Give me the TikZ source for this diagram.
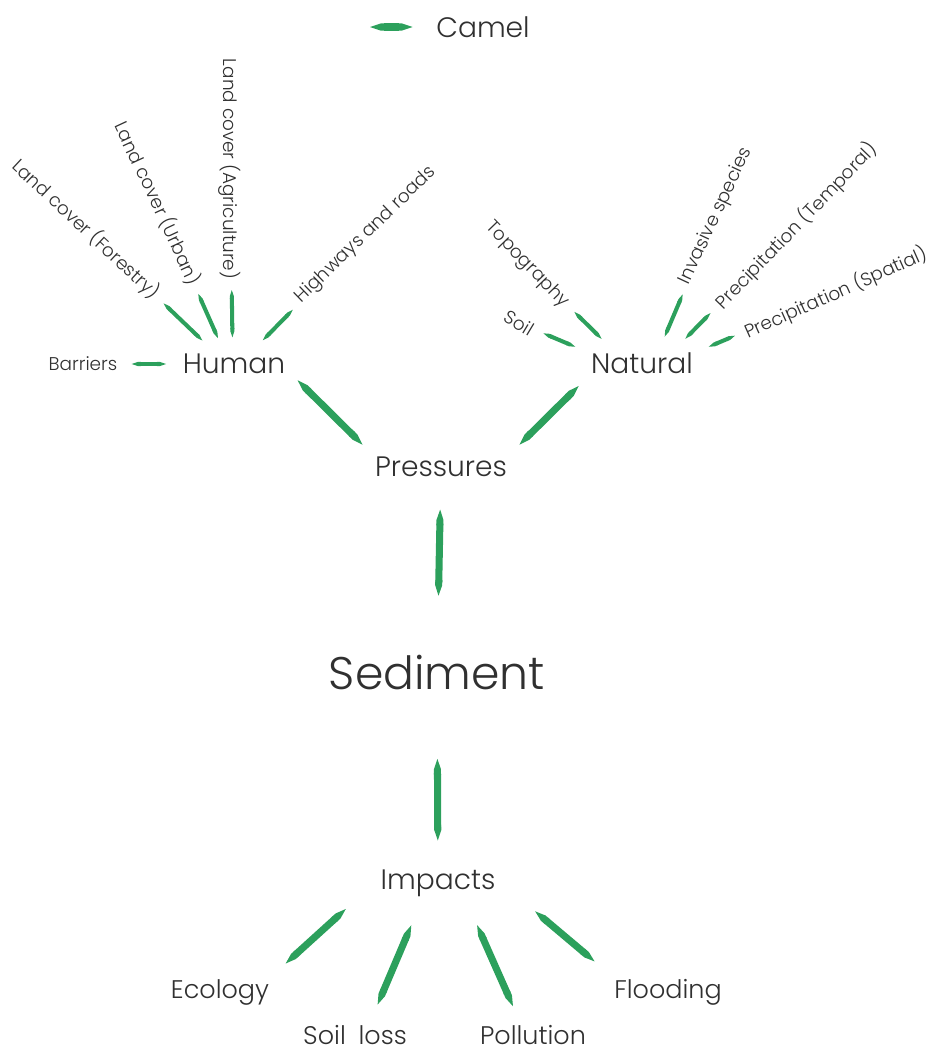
\documentclass[tikz,border=0pt]{standalone}
\usepackage{fontspec}
\setmainfont{Poppins}[UprightFont={* Light}]
\usetikzlibrary{arrows.meta,calc}
\definecolor{camelgreen}{RGB}{44,160,92}
\definecolor{inkgrey}{RGB}{48,48,48}
\tikzset{
    %Define style for labels
    hub/.style={
        align=center,
        text=inkgrey,
        font=\fontsize{16}{19}\selectfont,
    },
    core/.style={
        align=center,
        text=inkgrey,
        font=\fontsize{26}{31}\selectfont,
    },
    leaf/.style={
        align=center,
        text=inkgrey,
        inner sep=2pt,
        font=\fontsize{10.5}{12}\selectfont,
    },
    outcome/.style={
        align=center,
        text=inkgrey,
        font=\fontsize{14.5}{17}\selectfont,
    },
    %Define style for connectors
    trunk/.style={
        draw=camelgreen,
        line width=4pt,
        arrows={Triangle Cap[length=0pt 1.5]-Triangle Cap[length=0pt 1.5]},
    },
    twig/.style={
        trunk,
        line width=2.3pt,
        shorten <=4pt,
        shorten >=6pt,
    },
}
\begin{document}
\begin{tikzpicture}[x=0.02cm,y=-0.02cm]
    \useasboundingbox (0,0) rectangle (942,1059);

    \coordinate (swatch) at (370,27);
    \node[hub] (legend) at (483,27) {Camel};

    \node[hub] (human) at (234,364) {Human};
    \node[hub] (natural) at (642,363) {Natural};
    \node[hub] (pressures) at (441,467) {Pressures};
    \node[core] (sediment) at (437,672) {Sediment};
    \node[hub] (impacts) at (438,883) {Impacts};

    \node[leaf] (barriers) at (83,364) {Barriers};
    \node[leaf,rotate=-43] (forestry) at (86,229) {Land cover (Forestry)};
    \node[leaf,rotate=-65] (urban) at (158,203) {Land cover (Urban)};
    \node[leaf,rotate=-90] (agriculture) at (230,169) {Land cover (Agriculture)};
    \node[leaf,rotate=44] (highways) at (366,235) {Highways and roads};

    \node[leaf,rotate=-31] (soil) at (519,323) {Soil};
    \node[leaf,rotate=-46] (topography) at (527,265) {Topography};
    \node[leaf,rotate=65] (invasive) at (716,216) {Invasive species};
    \node[leaf,rotate=46] (temporal) at (796,226) {Precipitation (Temporal)};
    \node[leaf,rotate=24] (spatial) at (836,293) {Precipitation (Spatial)};

    \node[outcome] (ecology) at (220,992) {Ecology};
    \node[outcome] (soilloss) at (355,1035) {Soil\enspace loss};
    \node[outcome] (pollution) at (533,1035) {Pollution};
    \node[outcome] (flooding) at (668,992) {Flooding};

    \draw[trunk,shorten >=10pt] (swatch) -- (legend);

    \draw[twig,shorten <=6pt] (barriers) -- (human);
    \draw[twig] (forestry) -- (human.146);
    \draw[twig] (urban) -- (human.126);
    \draw[twig] (agriculture) -- (human.95);
    \draw[twig] (highways) -- (human.37);

    \draw[twig] (soil) -- (natural.168);
    \draw[twig] (topography) -- (natural.153);
    \draw[twig] (invasive) -- (natural.42);
    \draw[twig] (temporal) -- (natural.25);
    \draw[twig] (spatial) -- (natural.12);

    \draw[trunk,shorten <=5pt,shorten >=5pt] (human.-10) -- (pressures.north west);
    \draw[trunk,shorten <=5pt,shorten >=5pt] (natural.south west) -- (pressures.north east);
    \draw[trunk,shorten <=15pt,shorten >=30pt] (pressures) -- (sediment);
    \draw[trunk,shorten <=36pt,shorten >=13pt] (sediment) -- (impacts);

    \draw[trunk,shorten <=22pt,shorten >=8pt] (impacts.west) -- (ecology.north east);
    \draw[trunk,shorten <=14pt,shorten >=9pt] (impacts.-131) -- (soilloss.44);
    \draw[trunk,shorten <=14pt,shorten >=8pt] (impacts.-34) -- (pollution.132);
    \draw[trunk,shorten <=25pt,shorten >=10pt] (impacts.east) -- (flooding.north west);
\end{tikzpicture}
\end{document}
